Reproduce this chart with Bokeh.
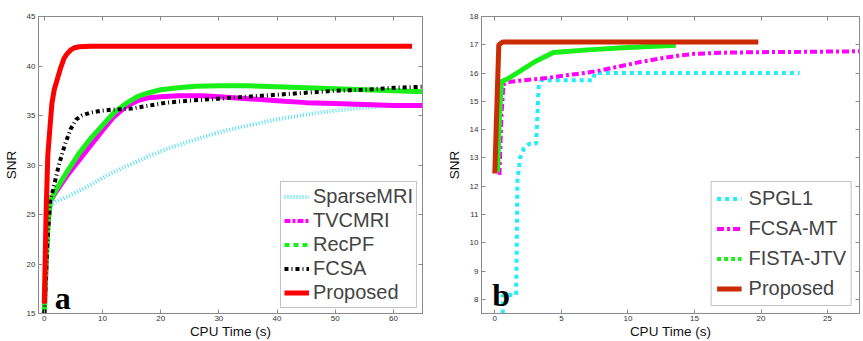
from bokeh.plotting import figure
from bokeh.layouts import row
from bokeh.models import (Range1d, LinearAxis, FixedTicker, Legend, LegendItem, Label,
                          CustomLabelingPolicy)
from bokeh.embed import file_html
from bokeh.resources import INLINE

# ---------------- Panel (a) data ----------------
a_x_ticks = [0, 10, 20, 30, 40, 50, 60]
a_y_ticks = [15, 20, 25, 30, 35, 40, 45]

sparse_x = [0, 0.5, 1.0, 2, 4, 6, 8, 10, 12, 15, 18, 21, 25, 30, 35, 40, 45, 50, 55, 60, 65]
sparse_y = [15, 21, 25.8, 26.3, 26.8, 27.4, 28.0, 28.7, 29.3, 30.1, 30.9, 31.6, 32.4, 33.3, 34.0, 34.6, 35.1, 35.5, 35.8, 36.0, 36.1]

tvc_x = [0, 0.3, 0.6, 1.0, 2, 4, 6, 8, 10, 12, 14, 16, 18, 20, 23, 27, 30, 35, 40, 45, 50, 55, 60, 65]
tvc_y = [15, 20, 24, 26.3, 27.3, 29.0, 30.5, 32.0, 33.5, 34.9, 35.9, 36.5, 36.8, 36.9, 37.0, 37.0, 36.9, 36.7, 36.5, 36.3, 36.2, 36.1, 36.0, 36.0]

recpf_x = [0, 0.3, 0.6, 1.0, 2, 4, 6, 8, 10, 12, 14, 16, 18, 20, 23, 26, 30, 35, 40, 45, 50, 55, 60, 65]
recpf_y = [15, 20, 24, 26.3, 27.5, 29.4, 31.2, 32.7, 34.0, 35.3, 36.2, 36.9, 37.3, 37.6, 37.8, 37.95, 38.0, 38.0, 37.9, 37.8, 37.7, 37.6, 37.5, 37.4]

fcsa_x = [0, 0.5, 1.0, 1.5, 2.5, 3.5, 4.5, 5.5, 6.5, 8, 10, 12, 15, 18, 21, 25, 30, 35, 40, 45, 50, 55, 60, 65]
fcsa_y = [15, 22, 26.5, 27.5, 30.0, 32.0, 33.6, 34.6, 35.0, 35.3, 35.5, 35.6, 35.7, 36.0, 36.3, 36.5, 36.7, 36.9, 37.1, 37.3, 37.5, 37.6, 37.8, 37.9]

propa_x = [0, 0.3, 0.6, 1.0, 1.3, 1.7, 2.2, 2.8, 3.4, 4.0, 4.5, 5.2, 6, 8, 63.2]
propa_y = [16, 25, 31, 34.0, 36.2, 37.6, 38.6, 39.8, 40.8, 41.3, 41.6, 41.85, 41.95, 42, 42]

# ---------------- Panel (b) data ----------------
b_x_ticks = [0, 5, 10, 15, 20, 25]
b_y_ticks = [8, 9, 10, 11, 12, 13, 14, 15, 16, 17, 18]

spgl_x = [0.6, 0.6, 1.6, 1.65, 1.7, 1.9, 2.2, 2.6, 3.1, 3.2, 3.3, 3.5, 7.4, 7.5, 22.9]
spgl_y = [7.5, 8.15, 8.15, 10.0, 12.2, 13.0, 13.35, 13.5, 13.5, 14.5, 15.6, 15.75, 15.75, 16.0, 16.0]

fcsamt_x = [0.35, 0.5, 0.65, 1, 2, 3, 4, 5, 6, 7, 8, 9, 10, 11, 12, 13, 14, 15, 17, 20, 23, 27.5]
fcsamt_y = [12.4, 14.5, 15.6, 15.68, 15.74, 15.78, 15.83, 15.9, 15.96, 16.02, 16.1, 16.2, 16.3, 16.4, 16.48, 16.56, 16.63, 16.68, 16.72, 16.74, 16.75, 16.77]

fista_x = [0.2, 0.35, 0.5, 1, 2, 3, 4.4, 7, 10, 13.6]
fista_y = [12.5, 14.5, 15.7, 15.8, 16.1, 16.4, 16.73, 16.82, 16.9, 16.98]

propb_x = [0, 0.3, 0.6, 19.8]
propb_y = [12.45, 17.0, 17.1, 17.1]

FONT = "Liberation Sans"
AXIS_GRAY = "#8a8a8a"

NO_LABELS = CustomLabelingPolicy(code="""
    for (const i of indices) { indices.unset(i) }
    return indices
""")


def style(p, xt, yt):
    for ax, t in ((p.below[0], xt), (p.left[0], yt)):
        ax.ticker = FixedTicker(ticks=t)
        ax.major_tick_in = 4
        ax.major_tick_out = 0
        ax.minor_tick_line_color = None
        ax.axis_line_color = AXIS_GRAY
        ax.major_tick_line_color = AXIS_GRAY
        ax.major_label_text_font = FONT
        ax.major_label_text_font_size = "8px"
        ax.major_label_text_color = "#333333"
        ax.axis_label_text_font = FONT
        ax.axis_label_text_font_size = "13.5px"
        ax.axis_label_text_font_style = "normal"
        ax.axis_label_text_color = "#111111"
    p.below[0].axis_label = "CPU Time (s)"
    p.below[0].major_label_standoff = 2
    p.below[0].axis_label_standoff = 0
    p.left[0].axis_label = "SNR"
    p.left[0].major_label_standoff = 3
    p.left[0].axis_label_standoff = 5
    p.xgrid.visible = False
    p.ygrid.visible = False
    p.outline_line_color = AXIS_GRAY
    # tick marks on the top and right edges (box style), without labels
    for loc, t in (("above", xt), ("right", yt)):
        ax = LinearAxis(ticker=FixedTicker(ticks=t), major_label_policy=NO_LABELS,
                        major_label_text_font_size="1px",
                        major_tick_in=4, major_tick_out=0, minor_tick_line_color=None,
                        axis_line_color=AXIS_GRAY, major_tick_line_color=AXIS_GRAY,
                        major_label_standoff=0)
        p.add_layout(ax, loc)


# ---------------- Figure (a) ----------------
p1 = figure(width=430, height=341, x_range=Range1d(-1, 65), y_range=Range1d(15, 45),
            output_backend="svg", toolbar_location=None,
            min_border_left=38, min_border_right=8, min_border_top=13, min_border_bottom=28)

r_sp = p1.line(sparse_x, sparse_y, line_color="#4FE2F2", line_width=4, line_dash="1 2")
r_tv = p1.line(tvc_x, tvc_y, line_color="#FF00FF", line_width=5)
r_rc = p1.line(recpf_x, recpf_y, line_color="#19F019", line_width=5)
r_fc = p1.line(fcsa_x, fcsa_y, line_color="#000000", line_width=4, line_dash="4 3 1 3")
r_pa = p1.line(propa_x, propa_y, line_color="#FF0000", line_width=5)
# legend swatches in the original dash styles (single point: draws nothing in the plot)
l_tv = p1.line(tvc_x[:1], tvc_y[:1], line_color="#FF00FF", line_width=4, line_dash="6 2 3 2")
l_rc = p1.line(recpf_x[:1], recpf_y[:1], line_color="#19F019", line_width=4, line_dash="5 4")

leg1 = Legend(items=[LegendItem(label="SparseMRI", renderers=[r_sp]),
                     LegendItem(label="TVCMRI", renderers=[l_tv]),
                     LegendItem(label="RecPF", renderers=[l_rc]),
                     LegendItem(label="FCSA", renderers=[r_fc]),
                     LegendItem(label="Proposed", renderers=[r_pa])],
              location="bottom_right", label_text_font=FONT, label_text_font_size="20px",
              glyph_width=25, glyph_height=23, label_height=23, spacing=1, padding=3,
              label_standoff=4, margin=5, border_line_color="#888888",
              background_fill_color="white", background_fill_alpha=1)
p1.add_layout(leg1)
p1.add_layout(Label(x=1.8, y=16.6, text="a", text_font="Liberation Serif", text_font_style="bold",
                    text_font_size="32px", text_baseline="alphabetic", text_color="black"))
style(p1, a_x_ticks, a_y_ticks)

# ---------------- Figure (b) ----------------
p2 = figure(width=433, height=341, x_range=Range1d(-1, 27.4), y_range=Range1d(7.5, 18),
            output_backend="svg", toolbar_location=None,
            min_border_left=51, min_border_right=2, min_border_top=16, min_border_bottom=28)

r_sg = p2.line(spgl_x, spgl_y, line_color="#22EEF8", line_width=4, line_dash="4 4")
r_mt = p2.line(fcsamt_x, fcsamt_y, line_color="#FF00FF", line_width=4, line_dash="7 3 3 3")
r_fj = p2.line(fista_x, fista_y, line_color="#19F019", line_width=5)
r_pb = p2.line(propb_x, propb_y, line_color="#CC2A00", line_width=5)
l_fj = p2.line(fista_x[:1], fista_y[:1], line_color="#19F019", line_width=4, line_dash="4 3")

leg2 = Legend(items=[LegendItem(label="SPGL1", renderers=[r_sg]),
                     LegendItem(label="FCSA-MT", renderers=[r_mt]),
                     LegendItem(label="FISTA-JTV", renderers=[l_fj]),
                     LegendItem(label="Proposed", renderers=[r_pb])],
              location="bottom_right", label_text_font=FONT, label_text_font_size="20px",
              glyph_width=25, glyph_height=23, label_height=23, spacing=7, padding=5,
              label_standoff=7, margin=7, border_line_color="#888888",
              background_fill_color="white", background_fill_alpha=1)
p2.add_layout(leg2)
p2.add_layout(Label(x=-0.2, y=8.14, text="b", text_font="Liberation Serif", text_font_style="bold",
                    text_font_size="32px", text_baseline="alphabetic", text_color="black"))
style(p2, b_x_ticks, b_y_ticks)

layout = row(p1, p2)
open("out.html", "w").write(file_html(layout, INLINE))
